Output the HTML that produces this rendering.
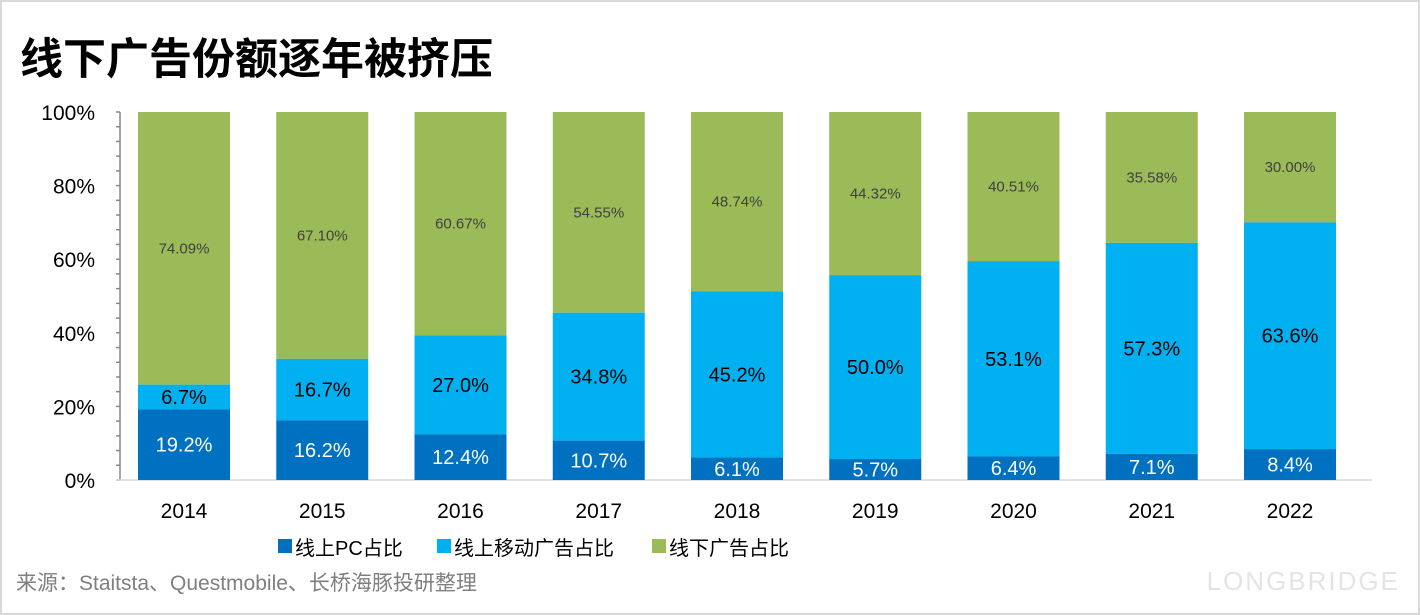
<!DOCTYPE html>
<html><head><meta charset="utf-8"><style>
body{margin:0;background:#fff;}
#wrap{position:relative;width:1420px;height:615px;overflow:hidden;background:#fff;font-family:"Liberation Sans","Noto Sans CJK SC",sans-serif;}
</style></head><body>
<div id="wrap">
<svg id="chart" width="1420" height="615">
<rect x="1" y="1" width="1418" height="613" fill="none" stroke="#d9d9d9" stroke-width="2"/>
<text x="20" y="74" font-size="43" font-weight="bold" fill="#000" font-family="'Noto Sans CJK SC',sans-serif">线下广告份额逐年被挤压</text>
<g id="axes"></g><g id="bars"></g>
<text x="16" y="590" font-size="21" fill="#7f7f7f" font-family="'Liberation Sans','Noto Sans CJK SC',sans-serif">来源：Staitsta、Questmobile、长桥海豚投研整理</text>
<text x="1400" y="590" font-size="26" fill="#e4e4e4" text-anchor="end" letter-spacing="2">LONGBRIDGE</text>
</svg>
</div>
<script>
const years=["2014","2015","2016","2017","2018","2019","2020","2021","2022"];
const pcVals=[19.2,16.2,12.4,10.7,6.1,5.7,6.4,7.1,8.4];
const mobileVals=[6.7,16.7,27.0,34.8,45.2,50.0,53.1,57.3,63.6];
const offlineVals=[74.09,67.10,60.67,54.55,48.74,44.32,40.51,35.58,30.00];
const yTicks=[0,20,40,60,80,100];
const NS="http://www.w3.org/2000/svg";
const y0=480,y100=112,x0=184,step=138.25,bw=92;
const ys=v=>y0-(y0-y100)*v/100;
const xs=i=>x0+i*step;
function mk(t,a,p){const e=document.createElementNS(NS,t);for(const k in a)e.setAttribute(k,a[k]);p.appendChild(e);return e;}
const ax=document.getElementById('axes'),bars=document.getElementById('bars');
for(let v=0;v<=100;v+=4){const t=mk('line',{x1:116,x2:120,y1:ys(v),y2:ys(v),stroke:'#888','stroke-width':1.5},ax);

}
yTicks.forEach(v=>{const t=mk('text',{x:95,y:ys(v)+8,'font-size':21,'text-anchor':'end',fill:'#000'},ax);t.textContent=v+'%';

});
years.forEach((yr,i)=>{
 const cx=xs(i),x=cx-bw/2,pc=pcVals[i],mo=mobileVals[i],off=offlineVals[i];
 const top=100-off;
 const g=mk('rect',{x:x,y:y100,width:bw,height:ys(top)-y100,fill:'#9bbb59'},bars);
 
 
 const m=mk('rect',{x:x,y:ys(top),width:bw,height:ys(pc)-ys(top),fill:'#00b0f0'},bars);
 
 
 const p=mk('rect',{x:x,y:ys(pc),width:bw,height:y0-ys(pc),fill:'#0070c0'},bars);
 
 
 const l1=mk('text',{x:cx,y:(ys(pc)+y0)/2+7,'font-size':20,'text-anchor':'middle',fill:'#fff'},bars);l1.textContent=pc.toFixed(1)+'%';
 
 
 const l2=mk('text',{x:cx,y:(ys(pc)+ys(top))/2+7,'font-size':20,'text-anchor':'middle',fill:'#000'},bars);l2.textContent=mo.toFixed(1)+'%';
 
 
 const l3=mk('text',{x:cx,y:(y100+ys(top))/2+5,'font-size':15,'text-anchor':'middle',fill:'#404040'},bars);l3.textContent=off.toFixed(2)+'%';
 
 
 const xl=mk('text',{x:cx,y:518,'font-size':21,'text-anchor':'middle',fill:'#000'},bars);xl.textContent=yr;
 
 
});
const axl=mk('line',{x1:120,x2:120,y1:y100,y2:y0,stroke:'#888','stroke-width':1.5},ax);


const bxl=mk('line',{x1:116,x2:1372,y1:y0,y2:y0,stroke:'#d9d9d9','stroke-width':1.5},ax);


const leg=[["线上PC占比","#0070c0",278],["线上移动广告占比","#00b0f0",437],["线下广告占比","#9bbb59",652]];
leg.forEach(l=>{const s=mk('rect',{x:l[2],y:539,width:14,height:14,fill:l[1]},ax);


const t=mk('text',{x:l[2]+17,y:555,'font-size':20,fill:'#000'},ax);t.textContent=l[0];

});
</script>
</body></html>
